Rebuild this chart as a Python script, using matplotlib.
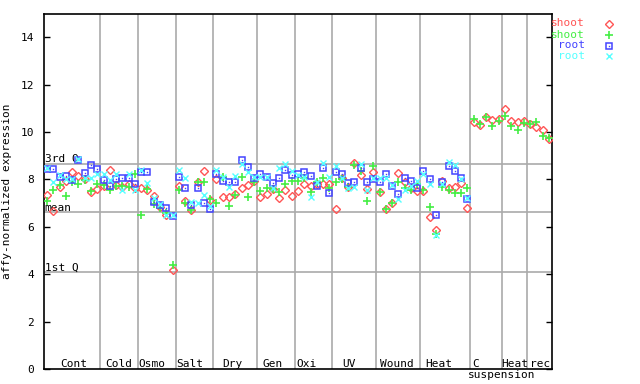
import numpy as np
import matplotlib
matplotlib.use("Agg")
import matplotlib.pyplot as plt
from matplotlib.lines import Line2D

# ---------------- data ----------------
groups = ["Cont", "Cold", "Osmo", "Salt", "Dry", "Gen", "Oxi", "UV", "Wound",
          "Heat", "C", "Heat", "rec"]
group_sizes = [9, 6, 6, 6, 7, 6, 6, 7, 7, 8, 5, 4, 4]

shoot_rep1 = [
    7.35, 6.67, 7.70, 7.95, 8.32, 8.16, 8.00, 7.46, 7.58,   # Cont
    7.74, 8.39, 7.75, 7.70, 7.82, 7.65,                     # Cold
    7.62, 7.57, 7.30, 6.85, 6.50, 4.19,                     # Osmo
    7.71, 7.10, 6.70, 7.88, 8.34, 7.15,                     # Salt
    8.02, 7.28, 7.28, 7.40, 7.63, 7.77, 7.92,               # Dry
    7.25, 7.38, 7.58, 7.21, 7.55, 7.30,                     # Gen
    7.51, 7.80, 7.74, 7.80, 7.80, 7.80,                     # Oxi
    6.75, 8.05, 7.68, 8.69, 8.20, 7.60, 8.30,               # UV
    7.46, 6.74, 6.99, 8.27, 7.90, 7.63, 7.50,               # Wound
    7.50, 6.40, 5.86, 7.95, 7.64, 7.68, 7.85, 6.78,         # Heat
    10.41, 10.28, 10.62, 10.51, 10.55,                      # C suspension
    10.97, 10.46, 10.41, 10.46,                             # Heat
    10.33, 10.20, 10.07, 9.70,                              # rec
]
shoot_rep2 = [
    7.09, 7.55, 7.78, 7.30, 7.90, 7.81, 7.97, 7.50, 7.80,
    7.75, 7.57, 7.71, 7.74, 7.70, 8.25,
    6.50, 7.60, 6.95, 6.80, 6.59, 4.39,
    7.54, 7.00, 6.71, 7.88, 7.90, 7.17,
    7.00, 8.10, 6.90, 7.34, 8.10, 7.28, 7.90,
    7.50, 7.64, 7.60, 7.48, 7.80, 7.95,
    7.93, 8.05, 7.48, 7.91, 8.05, 7.63,
    7.88, 8.00, 7.70, 8.61, 8.35, 7.08, 8.58,
    7.46, 6.75, 7.01, 7.88, 7.62, 7.54, 7.82,
    7.54, 6.82, 5.70, 7.70, 7.55, 7.43, 7.43, 7.63,
    10.55, 10.36, 10.64, 10.27, 10.46,
    10.67, 10.24, 10.07, 10.37,
    10.33, 10.41, 9.85, 9.75,
]
root_rep1 = [
    8.46, 8.43, 8.12, 8.15, 7.98, 8.83, 8.28, 8.60, 8.43,
    7.96, 7.71, 8.02, 8.05, 8.05, 7.80,
    8.30, 8.30, 7.04, 6.92, 6.78, 6.47,
    8.11, 7.63, 6.91, 7.63, 6.99, 6.75,
    8.22, 7.93, 7.88, 7.88, 8.80, 8.52, 8.05,
    8.22, 8.10, 7.83, 8.05, 8.38, 8.19,
    8.22, 8.33, 8.13, 7.71, 8.47, 7.42,
    8.30, 8.25, 7.85, 7.88, 8.47, 7.88, 8.01,
    7.88, 8.22, 7.74, 7.37, 8.08, 7.93, 7.63,
    8.34, 8.01, 6.48, 7.88, 8.56, 8.34, 8.08, 7.17,
]
root_rep2 = [
    8.49, 7.89, 8.20, 8.00, 8.02, 8.85, 8.05, 8.05, 8.25,
    8.22, 7.96, 8.25, 7.54, 8.25, 7.54,
    8.39, 7.85, 7.20, 6.95, 6.52, 6.50,
    8.39, 8.05, 7.05, 7.00, 7.34, 6.90,
    8.40, 8.10, 7.70, 8.14, 8.67, 8.31, 8.12,
    8.11, 8.10, 7.64, 8.48, 8.65, 8.35,
    8.20, 8.10, 7.26, 7.88, 8.70, 8.10,
    8.56, 8.06, 7.66, 7.69, 8.64, 7.54, 8.05,
    8.08, 8.05, 7.76, 7.17, 7.54, 7.71, 7.94,
    8.25, 7.80, 5.65, 7.80, 8.74, 8.59, 8.00, 7.23,
]
quartile_values = [8.67, 6.61, 4.08]
quartile_labels = ["3rd Q", "mean", "1st Q"]
y_ticks = [0, 2, 4, 6, 8, 10, 12, 14]

# ---------------- layout / style ----------------
RED, GREEN, BLUE, CYAN = "#ff5555", "#44ee44", "#4444ff", "#55ffff"
GREY = "#aaaaaa"
MONO = "DejaVu Sans Mono"
FS = 8
# label x centres (data units) as placed in the reference
label_x = [4.28, 11.35, 16.7, 22.8, 29.6, 35.9, 41.4, 48.1, 55.75, 62.5, 68.4, 74.5, 78.6]

W, H = 640, 384
fig = plt.figure(figsize=(W / 100, H / 100), dpi=100)
ax = fig.add_axes([44 / W, 15 / H, 508 / W, 355.4 / H])

n = sum(group_sizes)
x_all = np.arange(n)
x_root = np.arange(len(root_rep1))

ax.set_xlim(-0.5, n - 0.5)
ax.set_ylim(0, 15)

# separators
bounds = np.cumsum(group_sizes)[:-1]
for b in bounds:
    ax.axvline(b - 0.5, color=GREY, lw=1.2, zorder=1)
for q, lab in zip(quartile_values, quartile_labels):
    ax.axhline(q, color=GREY, lw=1.2, zorder=1)
    ax.text(-0.42, q + 0.07, lab, ha="left", va="baseline", family=MONO,
            fontsize=FS, zorder=2)

# data
ax.plot(x_all, shoot_rep1, ls="none", marker="D", ms=3.6, mfc="none",
        mec=RED, mew=1.0, zorder=3)
ax.plot(x_all, shoot_rep2, ls="none", marker="+", ms=6, mec=GREEN,
        mew=1.2, zorder=4)
ax.plot(x_root, root_rep1, ls="none", marker="s", ms=4.4, mfc="none",
        mec=BLUE, mew=1.1, zorder=5)
ax.plot(x_root, root_rep1, ls="none", marker="s", ms=1.0, mfc=BLUE,
        mec=BLUE, mew=0, zorder=5)
ax.plot(x_root, root_rep2, ls="none", marker="x", ms=4.2, mec=CYAN,
        mew=1.0, zorder=6)

# group labels
for lx, g in zip(label_x, groups):
    ax.text(lx, 0.1, g, ha="center", va="baseline", family=MONO, fontsize=FS)
ax.text(72.5, -0.4, "suspension", ha="center", va="baseline", family=MONO,
        fontsize=FS, clip_on=False)

# axes styling
ax.set_xticks([])
ax.set_yticks(y_ticks)
ax.set_yticklabels([str(t) for t in y_ticks], family=MONO, fontsize=FS)
ax.tick_params(axis="y", direction="in", length=4.5, width=1, pad=7,
               right=True, left=True)
for s in ax.spines.values():
    s.set_linewidth(1.2)
ax.set_ylabel("affy-normalized expression", family=MONO, fontsize=FS)
ax.yaxis.set_label_coords(-0.063, 0.5)

# legend (outside, top right)
leg = [("shoot", RED, "D", dict(ms=3.6, mfc="none", mew=1.0)),
       ("shoot", GREEN, "+", dict(ms=6, mew=1.2)),
       ("root", BLUE, "s", dict(ms=4.4, mfc="none", mew=1.1)),
       ("root", CYAN, "x", dict(ms=4.2, mew=1.0))]
ys = [23.5, 35, 45.5, 56]
for (txt, col, mk, kw), yp in zip(leg, ys):
    fig.text(585 / W, 1 - yp / H, txt, color=col, ha="right", va="center",
             family=MONO, fontsize=FS)
    fig.add_artist(Line2D([609 / W], [1 - yp / H], transform=fig.transFigure,
                          ls="none", marker=mk, mec=col, **kw))
fig.add_artist(Line2D([609 / W], [1 - 45.5 / H], transform=fig.transFigure,
                      ls="none", marker="s", ms=1.0, mfc=BLUE, mec=BLUE, mew=0))

fig.savefig("out.png", dpi=100)
